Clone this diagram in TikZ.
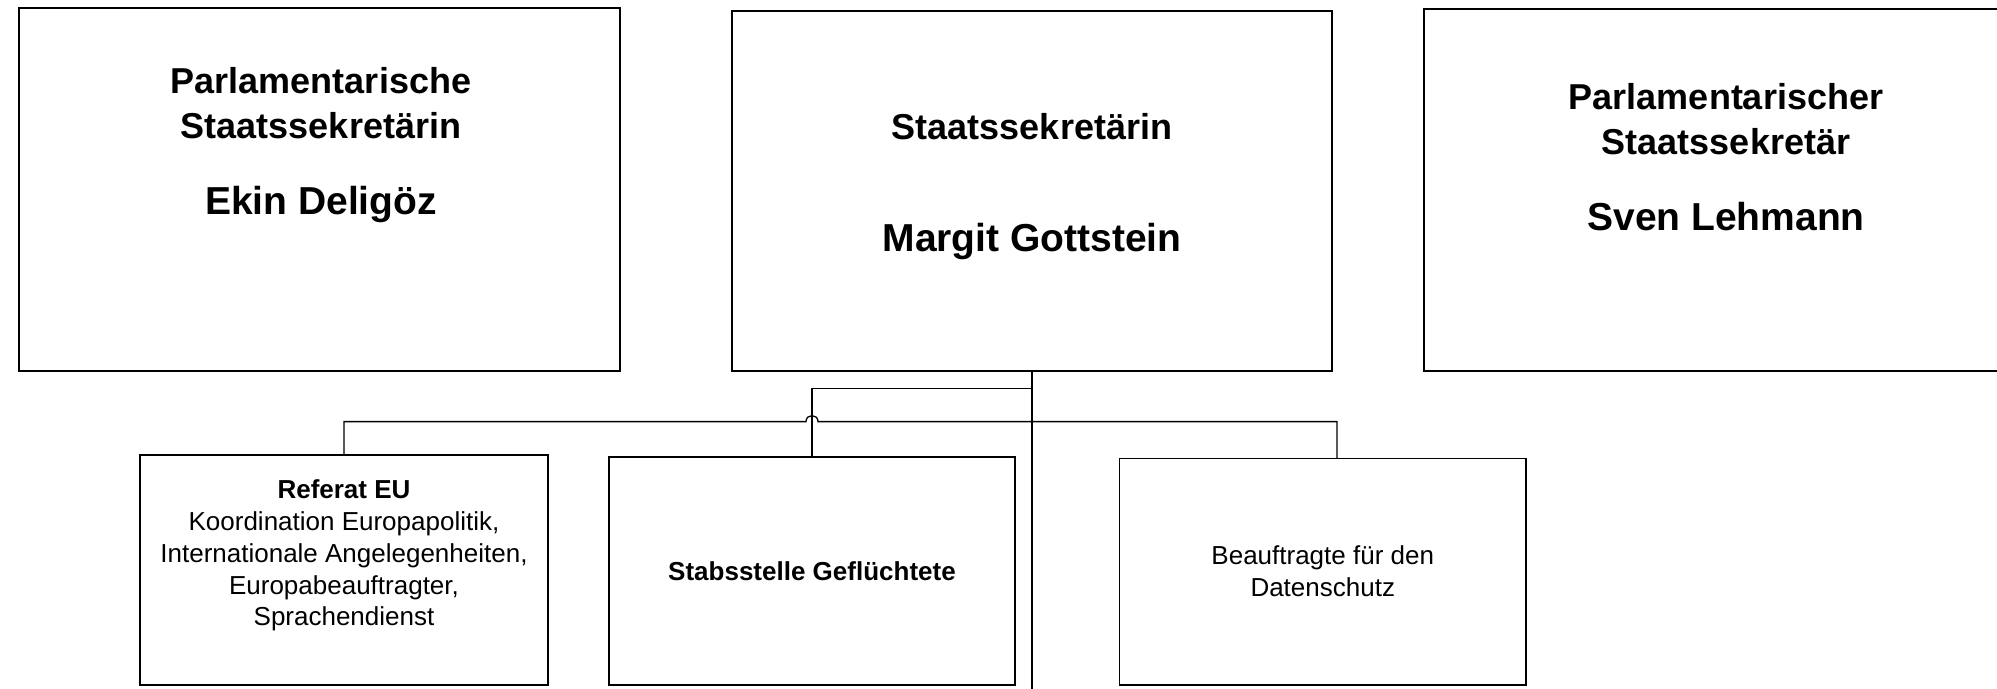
\documentclass[tikz,border=0pt]{standalone}
\usepackage{fontspec}
\setmainfont{Liberation Sans}
\usetikzlibrary{calc}
\begin{document}
\begin{tikzpicture}[x=1pt,y=-1pt,
  box/.style={draw=black, line width=1.4pt, rectangle, inner sep=0pt},
  conn/.style={draw=black, line width=1.3pt},
  trunk/.style={draw=black, line width=1.9pt},
  ttl/.style={inner sep=0pt, align=center, font=\bfseries\fontsize{36}{45}\selectfont},
  nm/.style={inner sep=0pt, align=center, font=\bfseries\fontsize{39}{47}\selectfont},
  sm/.style={inner sep=0pt, align=center, font=\fontsize{26}{31.8}\selectfont}]
\useasboundingbox (0,0) rectangle (1997,688);
% top boxes
\node[box, minimum width=601pt, minimum height=363pt] (lb) at (319.5,189.5) {};
\node[box, minimum width=600pt, minimum height=360pt] (cb) at (1032,191) {};
\node[box, minimum width=604pt, minimum height=362pt] (rb) at (1726,190) {};
% bottom boxes
\node[box, minimum width=408pt, minimum height=230pt] (ref) at (344,570) {};
\node[box, minimum width=406pt, minimum height=228pt] (stab) at (812,571) {};
\node[box, minimum width=406.5pt, minimum height=226.5pt] (bea) at (1322.75,571.75) {};
% texts
\node[ttl] (lbt) at (321,103.5) {Parlamentarische\\Staatssekretärin};
\node[nm] (lbn) at (321,204.5) {Ekin Deligöz};
\node[ttl] (cbt) at (1032,126.5) {Staatssekretärin};
\node[nm] (cbn) at (1032,241) {Margit Gottstein};
\node[ttl] (rbt) at (1726,119) {Parlamentarischer\\Staatssekretär};
\node[nm] (rbn) at (1726,217) {Sven Lehmann};
\node[sm] (reft) at (344,555.5) {\textbf{Referat EU}\\Koordination Europapolitik,\\Internationale Angelegenheiten,\\Europabeauftragter,\\Sprachendienst};
\node[sm] (stabt) at (812,571) {\textbf{Stabsstelle Geflüchtete}};
\node[sm] (beat) at (1322.75,571.5) {Beauftragte für den\\Datenschutz};
% connector helpers
\coordinate (up) at (0,388.5);
\coordinate (low) at (0,421.6);
\coordinate (trunkend) at (1032,700);
\coordinate (beatop) at (1337,458.5);
% connectors
\draw[trunk] (cb.south) -- (cb.south |- trunkend);
\draw[conn] (cb.south |- up) -- (stab.north |- up) -- (stab.north);
\draw[conn] (ref.north) -- (ref.north |- low)
  -- ($(stab.north |- low)+(-6,0)$)
  .. controls ($(stab.north |- low)+(-6,-8)$) and ($(stab.north |- low)+(6,-8)$) .. ($(stab.north |- low)+(6,0)$)
  -- (beatop |- low) -- (beatop);
\end{tikzpicture}
\end{document}
